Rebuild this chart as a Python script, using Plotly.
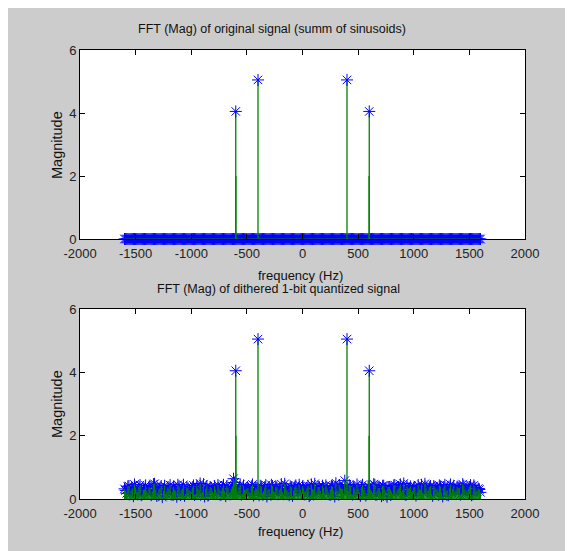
import plotly.graph_objects as go

OFF = 8                      # page body margin in the browser
W, H = 573 - OFF, 551 - OFF  # figure size so it ends at the window edge

# ---- data ----
freq_bins = list(range(-1600, 1601, 20))          # FFT bin grid (Hz)
freq_bins_b = list(range(-1590, 1591, 20))        # interleaved bins (Hz)
orig_floor = [0.0] * len(freq_bins)               # original signal: floor at zero
orig_floor_b = [0.0] * len(freq_bins_b)
dith_floor = [
    0.32, 0.18, 0.41, 0.27, 0.09, 0.36, 0.22, 0.44, 0.15, 0.30,
    0.25, 0.38, 0.12, 0.47, 0.29, 0.20, 0.35, 0.06, 0.42, 0.24,
    0.31, 0.14, 0.39, 0.26, 0.45, 0.19, 0.33, 0.10, 0.37, 0.28,
    0.21, 0.43, 0.16, 0.34, 0.49, 0.23, 0.08, 0.40, 0.27, 0.35,
    0.18, 0.30, 0.44, 0.13, 0.36, 0.25, 0.41, 0.20, 0.32, 0.64,
    0.38, 0.26, 0.46, 0.17, 0.29, 0.33, 0.22, 0.40, 0.11, 0.34,
    0.27, 0.42, 0.19, 0.36, 0.08, 0.31, 0.45, 0.24, 0.39, 0.15,
    0.33, 0.21, 0.48, 0.28, 0.12, 0.37, 0.26, 0.43, 0.18, 0.30,
    0.40, 0.23, 0.35, 0.09, 0.46, 0.29, 0.17, 0.38, 0.25, 0.42,
    0.20, 0.34, 0.14, 0.41, 0.27, 0.50, 0.22, 0.36, 0.31, 0.58,
    0.28, 0.44, 0.16, 0.37, 0.24, 0.33, 0.10, 0.45, 0.29, 0.19,
    0.39, 0.26, 0.47, 0.13, 0.35, 0.21, 0.42, 0.30, 0.07, 0.38,
    0.24, 0.43, 0.18, 0.32, 0.46, 0.27, 0.15, 0.40, 0.34, 0.22,
    0.36, 0.11, 0.44, 0.29, 0.20, 0.48, 0.25, 0.37, 0.16, 0.41,
    0.31, 0.23, 0.39, 0.08, 0.45, 0.28, 0.34, 0.19, 0.42, 0.26,
    0.35, 0.14, 0.47, 0.30, 0.22, 0.38, 0.12, 0.43, 0.27, 0.33,
    0.21,
]
dith_floor_b = [
    0.27, 0.40, 0.15, 0.33, 0.46, 0.21, 0.38, 0.12, 0.29, 0.43,
    0.19, 0.35, 0.24, 0.48, 0.10, 0.31, 0.41, 0.26, 0.17, 0.37,
    0.44, 0.22, 0.30, 0.07, 0.39, 0.28, 0.45, 0.16, 0.34, 0.25,
    0.36, 0.13, 0.42, 0.29, 0.20, 0.47, 0.32, 0.11, 0.38, 0.24,
    0.41, 0.18, 0.33, 0.27, 0.45, 0.09, 0.35, 0.23, 0.40, 0.52,
    0.21, 0.37, 0.14, 0.43, 0.28, 0.34, 0.19, 0.46, 0.26, 0.31,
    0.12, 0.39, 0.25, 0.44, 0.30, 0.17, 0.41, 0.22, 0.36, 0.28,
    0.47, 0.15, 0.33, 0.24, 0.40, 0.10, 0.37, 0.29, 0.45, 0.20,
    0.34, 0.26, 0.42, 0.13, 0.31, 0.48, 0.23, 0.38, 0.16, 0.35,
    0.43, 0.21, 0.30, 0.39, 0.08, 0.27, 0.44, 0.33, 0.18, 0.36,
    0.25, 0.41, 0.14, 0.32, 0.46, 0.22, 0.37, 0.28, 0.11, 0.40,
    0.30, 0.19, 0.45, 0.26, 0.35, 0.09, 0.42, 0.24, 0.38, 0.31,
    0.16, 0.44, 0.27, 0.36, 0.21, 0.49, 0.13, 0.33, 0.40, 0.25,
    0.38, 0.22, 0.31, 0.45, 0.17, 0.34, 0.28, 0.41, 0.10, 0.36,
    0.29, 0.43, 0.20, 0.37, 0.26, 0.12, 0.46, 0.32, 0.23, 0.39,
    0.34, 0.18, 0.42, 0.27, 0.31, 0.44, 0.15, 0.36, 0.24, 0.30,
]
peak_freq = [-600, -400, 400, 600]
peak_mag_orig = [4.05, 5.05, 5.05, 4.05]
peak_mag_dith = [4.05, 5.05, 5.05, 4.05]
shoulder_freq = [-598, 598]
shoulder_mag = [2.0, 2.0]

x_ticks = [-2000, -1500, -1000, -500, 0, 500, 1000, 1500, 2000]
x_tick_text = ["-2000", "-1500", "-1000", "-500", "0", "500", "1000", "1500", "2000"]
y_ticks = [0, 2, 4, 6]

title_top = "FFT (Mag) of original signal (summ of sinusoids)"
title_bot = "FFT (Mag) of dithered 1-bit quantized signal"
xlabel = "frequency (Hz)"
ylabel = "Magnitude"

BLUE = "#0000ff"
GREEN = "#008000"
GRAY = "#cccccc"
FONT = "Liberation Sans, Arial, sans-serif"


def px_x(p):
    return (p - OFF) / W


def px_y(p):
    return 1 - (p - OFF) / H


def stems(xs, ys):
    sx, sy = [], []
    for x, y in zip(xs, ys):
        sx += [x, x, None]
        sy += [0, y, None]
    return sx, sy


fig = go.Figure()

panels = [
    (freq_bins + freq_bins_b, orig_floor + orig_floor_b, peak_mag_orig, "x", "y"),
    (freq_bins + freq_bins_b, dith_floor + dith_floor_b, peak_mag_dith, "x2", "y2"),
]
for fx, floor, pmag, xa, ya in panels:
    fig.add_trace(go.Scatter(
        x=fx, y=floor, mode="markers", xaxis=xa, yaxis=ya,
        marker=dict(symbol="asterisk-open", size=10, color=BLUE,
                    line=dict(color=BLUE, width=1)),
        cliponaxis=False, showlegend=False, hoverinfo="skip"))
    sx, sy = stems(fx, floor)
    fig.add_trace(go.Scatter(
        x=sx, y=sy, mode="lines", xaxis=xa, yaxis=ya,
        line=dict(color=GREEN, width=1.2), showlegend=False, hoverinfo="skip"))
    fig.add_trace(go.Scatter(
        x=[freq_bins[0], freq_bins[-1]], y=[0, 0], mode="lines", xaxis=xa, yaxis=ya,
        line=dict(color=GREEN, width=1), showlegend=False, hoverinfo="skip"))
    sx, sy = stems(shoulder_freq, shoulder_mag)
    fig.add_trace(go.Scatter(
        x=sx, y=sy, mode="lines", xaxis=xa, yaxis=ya,
        line=dict(color=GREEN, width=1.2), showlegend=False, hoverinfo="skip"))
    sx, sy = stems(peak_freq, pmag)
    fig.add_trace(go.Scatter(
        x=sx, y=sy, mode="lines", xaxis=xa, yaxis=ya,
        line=dict(color=GREEN, width=1.3), showlegend=False, hoverinfo="skip"))
    fig.add_trace(go.Scatter(
        x=peak_freq, y=pmag, mode="markers", xaxis=xa, yaxis=ya,
        marker=dict(symbol="asterisk-open", size=10, color=BLUE,
                    line=dict(color=BLUE, width=1)),
        cliponaxis=False, showlegend=False, hoverinfo="skip"))

axis_common = dict(showline=True, linecolor="black", linewidth=1, mirror="ticks",
                   ticks="inside", ticklen=5, tickcolor="black", showgrid=False,
                   zeroline=False, automargin=False,
                   tickfont=dict(family=FONT, size=13, color="#222"))

xd = [px_x(80), px_x(525)]
fig.update_layout(
    width=W, height=H,
    template="none",
    margin=dict(l=0, r=0, t=0, b=0, pad=0),
    paper_bgcolor=GRAY, plot_bgcolor="white",
    xaxis=dict(domain=xd, range=[-2000, 2000], tickvals=x_ticks, ticktext=x_tick_text,
               anchor="y", ticklabelstandoff=2, **axis_common),
    yaxis=dict(domain=[px_y(239), px_y(50)], range=[0, 6], tickvals=y_ticks,
               anchor="x", **axis_common),
    xaxis2=dict(domain=xd, range=[-2000, 2000], tickvals=x_ticks, ticktext=x_tick_text,
                anchor="y2", ticklabelstandoff=2, **axis_common),
    yaxis2=dict(domain=[px_y(499), px_y(309)], range=[0, 6], tickvals=y_ticks,
                anchor="x2", **axis_common),
)


def ann(text, xpx, ypx, angle=0, size=12.5):
    fig.add_annotation(text=text, xref="paper", yref="paper", x=px_x(xpx), y=px_y(ypx),
                       showarrow=False, textangle=angle, xanchor="center", yanchor="middle",
                       font=dict(family=FONT, size=size, color="#111"))


ann(title_top, 272, 29)
ann(title_bot, 278, 289)
ann(xlabel, 300, 275, size=13)
ann(xlabel, 300, 531, size=13)
ann(ylabel, 57, 145, angle=-90, size=14.5)
ann(ylabel, 57, 404, angle=-90, size=14.5)

fig.write_html("out.html")
